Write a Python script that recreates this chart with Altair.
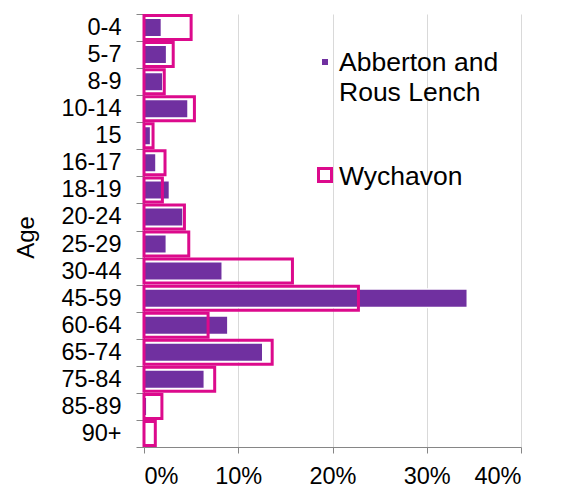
import altair as alt
import pandas as pd

ages = ["0-4", "5-7", "8-9", "10-14", "15", "16-17", "18-19", "20-24", "25-29",
        "30-44", "45-59", "60-64", "65-74", "75-84", "85-89", "90+"]
abberton = [1.85, 2.4, 2.0, 4.67, 0.7, 1.27, 2.7, 4.14, 2.37,
            8.3, 34.3, 8.9, 12.6, 6.4, 0.3, 0.0]
wychavon = [5.0, 3.1, 2.15, 5.35, 0.96, 2.23, 1.95, 4.29, 4.75,
            15.75, 22.75, 6.8, 13.6, 7.5, 1.9, 1.2]
x_ticks = [0, 0.1, 0.2, 0.3, 0.4]

PURPLE = "#7030A0"
PINK = "#DC0A8C"
FONT = "Liberation Sans"

df = pd.DataFrame({
    "age": ages,
    "abberton": [v / 100 for v in abberton],
    "wychavon": [v / 100 for v in wychavon],
})

y_enc = alt.Y(
    "age:N", sort=ages, title="Age",
    scale=alt.Scale(paddingInner=0, paddingOuter=0),
    axis=alt.Axis(
        labelFontSize=23.5, labelColor="black", labelFont=FONT,
        domainColor="#868686", tickColor="#868686", tickSize=8, tickBand="extent",
        labelPadding=15, grid=False,
        titleFontSize=24, titleFont=FONT, titleFontWeight="normal", titleColor="black",
        titleAngle=-90, titleX=-118, titleY=223, titleBaseline="middle", titleAlign="center",
    ),
)

x_scale = alt.Scale(domain=[0, 0.4], nice=False)
x_axis = alt.Axis(
    values=x_ticks, format=".0%", grid=True, gridColor="#D9D9D9", gridWidth=1,
    domainColor="#868686", tickColor="#868686", tickSize=6, labelPadding=11,
    labelFontSize=23.5, labelColor="black", labelFont=FONT, title=None,
)

base = alt.Chart(df)

purple = base.mark_bar(height=18.5, color=PURPLE, stroke="white", strokeWidth=1.5).encode(
    x=alt.X("abberton:Q", scale=x_scale, axis=x_axis),
    y=y_enc,
)

wych = base.mark_bar(height=24, fill="white", fillOpacity=0, stroke=PINK, strokeWidth=3).encode(
    x=alt.X("wychavon:Q", scale=x_scale, axis=x_axis),
    y=y_enc,
)

leg_df = pd.DataFrame({"t": ["x"]})
leg_sq1 = alt.Chart(leg_df).mark_square(size=36, color=PURPLE, opacity=1).encode(
    x=alt.value(181), y=alt.value(48))
leg_sq2 = alt.Chart(leg_df).mark_square(size=169, fill="white", stroke=PINK, strokeWidth=3, opacity=1).encode(
    x=alt.value(181), y=alt.value(161))
leg_t1 = alt.Chart(pd.DataFrame({"t": ["Abberton and"]})).mark_text(
    align="left", baseline="alphabetic", fontSize=26.5, font=FONT, color="black").encode(
    x=alt.value(195), y=alt.value(56.7), text="t:N")
leg_t2 = alt.Chart(pd.DataFrame({"t": ["Rous Lench"]})).mark_text(
    align="left", baseline="alphabetic", fontSize=26.5, font=FONT, color="black").encode(
    x=alt.value(195), y=alt.value(86.7), text="t:N")
leg_t3 = alt.Chart(pd.DataFrame({"t": ["Wychavon"]})).mark_text(
    align="left", baseline="alphabetic", fontSize=26.5, font=FONT, color="black").encode(
    x=alt.value(195), y=alt.value(171), text="t:N")

chart = alt.layer(purple, wych, leg_sq1, leg_sq2, leg_t1, leg_t2, leg_t3).properties(
    width=377, height=433,
    autosize=alt.AutoSizeParams(type="none"),
    padding={"left": 136, "top": 6, "right": 30, "bottom": 40},
    background="white",
).configure_view(strokeWidth=0)

chart.save("out.html", embed_options={"renderer": "svg", "actions": False})
